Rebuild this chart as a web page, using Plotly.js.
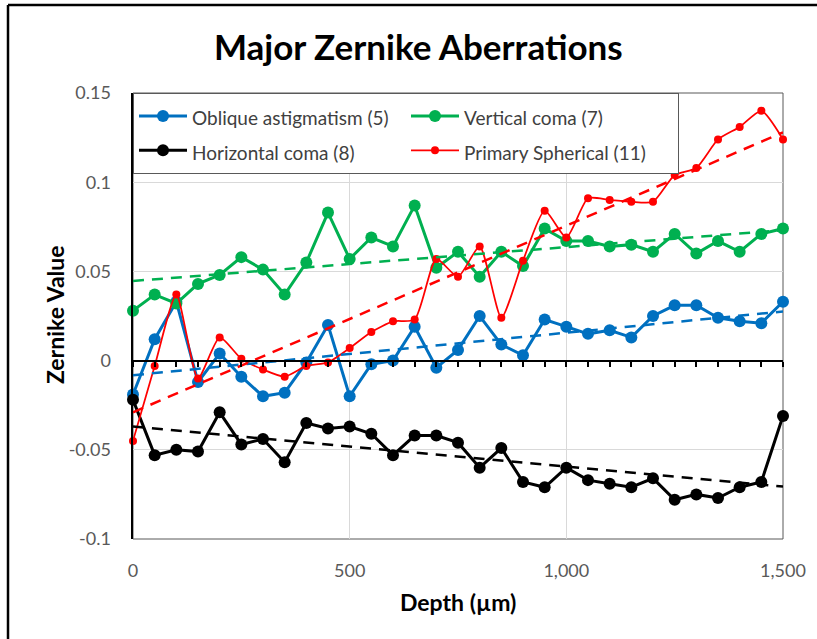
<!DOCTYPE html>
<html>
<head>
<meta charset="utf-8">
<script src="https://cdn.plot.ly/plotly-3.0.1.min.js"></script>
<style>html,body{margin:0;padding:0;background:#fff;}#chart{width:817px;height:639px;}</style>
</head>
<body>
<div id="chart"></div>
<script>
const depth = [0,50,100,150,200,250,300,350,400,450,500,550,600,650,700,750,800,850,900,950,1000,1050,1100,1150,1200,1250,1300,1350,1400,1450,1500];
const obliqueAstig = [-0.019,0.012,0.033,-0.012,0.004,-0.009,-0.020,-0.018,-0.001,0.020,-0.020,-0.002,0.000,0.019,-0.004,0.006,0.025,0.009,0.003,0.023,0.019,0.015,0.017,0.013,0.025,0.031,0.031,0.024,0.022,0.021,0.033];
const verticalComa = [0.028,0.037,0.032,0.043,0.048,0.058,0.051,0.037,0.055,0.083,0.057,0.069,0.064,0.087,0.052,0.061,0.047,0.061,0.053,0.074,0.067,0.067,0.064,0.065,0.061,0.071,0.060,0.067,0.061,0.071,0.074];
const horizontalComa = [-0.022,-0.053,-0.050,-0.051,-0.029,-0.047,-0.044,-0.057,-0.035,-0.038,-0.037,-0.041,-0.053,-0.042,-0.042,-0.046,-0.060,-0.049,-0.068,-0.071,-0.060,-0.067,-0.069,-0.071,-0.066,-0.078,-0.075,-0.077,-0.071,-0.068,-0.031];
const primarySpherical = [-0.045,-0.003,0.037,-0.010,0.013,0.001,-0.005,-0.009,-0.003,-0.001,0.007,0.016,0.022,0.023,0.057,0.047,0.064,0.024,0.056,0.084,0.069,0.091,0.090,0.089,0.089,0.104,0.108,0.124,0.131,0.140,0.124];

const yTickVals = [-0.1,-0.05,0,0.05,0.1,0.15];
const yTickText = ['-0.1','-0.05','0','0.05','0.1','0.15'];
const xTickVals = [0,500,1000,1500];
const xTickText = ['0','500','1,000','1,500'];

const FONT = 'Lato, "Open Sans", sans-serif';

function linFit(xs, ys){
  const n = xs.length;
  let sx=0, sy=0, sxx=0, sxy=0;
  for(let i=0;i<n;i++){sx+=xs[i];sy+=ys[i];sxx+=xs[i]*xs[i];sxy+=xs[i]*ys[i];}
  const b = (n*sxy - sx*sy)/(n*sxx - sx*sx);
  const a = (sy - b*sx)/n;
  const x0 = xs[0], x1 = xs[n-1];
  return {x:[x0,x1], y:[a+b*x0, a+b*x1]};
}

const series = [
  {name:'Oblique astigmatism (5)', y:obliqueAstig, color:'#0070C0', lw:3, ms:12, shape:'linear'},
  {name:'Vertical coma (7)', y:verticalComa, color:'#00B050', lw:3, ms:12, shape:'linear'},
  {name:'Horizontal coma (8)', y:horizontalComa, color:'#000000', lw:3, ms:12, shape:'linear'},
  {name:'Primary Spherical (11)', y:primarySpherical, color:'#FF0000', lw:1.75, ms:8, shape:'spline'}
];

const traces = [];
series.forEach(s=>{
  traces.push({
    type:'scatter', mode:'lines+markers', name:'<span style="font-size:19px">'+s.name+'</span>', x:depth, y:s.y,
    line:{color:s.color, width:s.lw, shape:s.shape, smoothing:0.6},
    marker:{color:s.color, size:s.ms},
    cliponaxis:false
  });
});
series.forEach(s=>{
  const f = linFit(depth, s.y);
  traces.push({
    type:'scatter', mode:'lines', x:f.x, y:f.y, xaxis:'x2', yaxis:'y',
    line:{color:s.color, width:2.5, dash:'11px,8px'},
    showlegend:false, hoverinfo:'skip'
  });
});

const layout = {
  width:817, height:639,
  margin:{l:133, r:34, t:93, b:100, pad:0},
  paper_bgcolor:'#ffffff', plot_bgcolor:'#ffffff',
  font:{family:FONT, color:'#595959', size:18},
  title:{text:'<b>Major Zernike Aberrations</b>', font:{family:FONT, size:35, color:'#000000'},
         x:0.512, xref:'container', y:0.925, yref:'container', xanchor:'center', yanchor:'middle'},
  showlegend:true,
  legend:{orientation:'h', x:0, y:1, xanchor:'left', yanchor:'top',
          bgcolor:'#ffffff', bordercolor:'#595959', borderwidth:1,
          itemwidth:48,
          entrywidth:209, entrywidthmode:'pixels', valign:'middle',
          font:{family:FONT, size:24, color:'#404040'}},
  xaxis:{range:[0,1500], tickvals:xTickVals, ticktext:xTickText,
         showgrid:true, gridcolor:'#d9d9d9', gridwidth:1, zeroline:false,
         showline:false, ticks:'outside', ticklen:15, tickcolor:'rgba(0,0,0,0)',
         tickfont:{family:FONT, size:18, color:'#595959'}, fixedrange:true},
  xaxis2:{range:[0,1500], overlaying:'x', anchor:'free', position:0.4, side:'bottom',
          showgrid:false, zeroline:false, showticklabels:false,
          ticks:'outside', tick0:0, dtick:50, ticklen:5, tickwidth:2, tickcolor:'#000000',
          showline:true, linecolor:'#000000', linewidth:2.5, fixedrange:true},
  yaxis:{range:[-0.1,0.15], tickvals:yTickVals, ticktext:yTickText,
         showgrid:true, gridcolor:'#d9d9d9', gridwidth:1, zeroline:false,
         showline:true, linecolor:'#000000', linewidth:2.5,
         ticks:'outside', ticklen:16, tickcolor:'rgba(0,0,0,0)',
         tickfont:{family:FONT, size:18, color:'#595959'}, fixedrange:true},
  shapes:[
    {type:'rect', xref:'paper', yref:'paper', x0:0, x1:1, y0:0, y1:1, line:{color:'#595959', width:1}, layer:'below'},
    {type:'line', xref:'paper', yref:'paper', x0:-0.1923, x1:-0.1923, y0:-0.23, y1:1.1973, line:{color:'#000000', width:2.5}},
    {type:'line', xref:'paper', yref:'paper', x0:-0.1923, x1:1.06, y0:1.1973, y1:1.1973, line:{color:'#000000', width:2.5}}
  ],
  annotations:[
    {text:'<b>Zernike Value</b>', xref:'paper', yref:'paper', x:-0.12, y:0.502, textangle:-90,
     showarrow:false, xanchor:'center', yanchor:'middle', font:{family:FONT, size:23, color:'#000000'}},
    {text:'<b>Depth (µm)</b>', xref:'paper', yref:'paper', x:0.5, y:-0.141,
     showarrow:false, xanchor:'center', yanchor:'middle', font:{family:FONT, size:23, color:'#000000'}}
  ]
};

Plotly.newPlot('chart', traces, layout, {displayModeBar:false, staticPlot:true});
</script>
</body>
</html>
